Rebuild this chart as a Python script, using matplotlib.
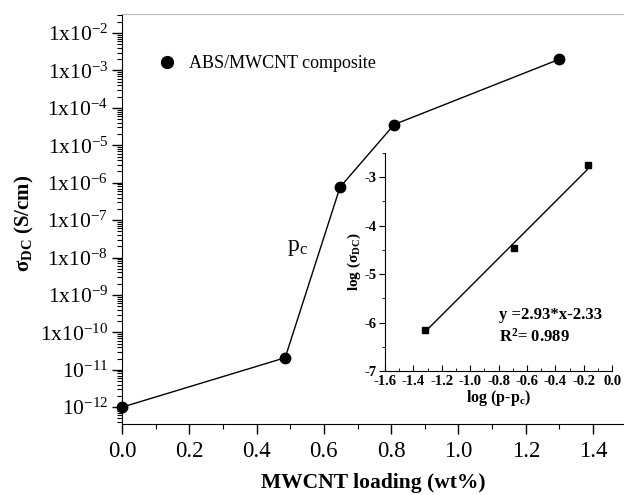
import matplotlib
matplotlib.use("Agg")
import matplotlib.pyplot as plt
import numpy as np
from matplotlib.ticker import FixedLocator, LogLocator, NullFormatter, FuncFormatter, MultipleLocator

plt.rcParams['font.family'] = ['Liberation Serif', 'DejaVu Serif']
plt.rcParams['mathtext.fontset'] = 'custom'
plt.rcParams['mathtext.rm'] = 'Liberation Serif'
plt.rcParams['mathtext.default'] = 'regular'

# Datos principales
carga = [0.0, 0.485, 0.648, 0.809, 1.30]           # wt%
sigma = [1.0e-12, 2.1e-11, 7.6e-7, 3.6e-5, 2.0e-3]  # S/cm

# Datos del recuadro
log_p = [-1.32, -0.69, -0.17]
log_sigma = [-6.15, -4.47, -2.74]
pendiente = 2.93
intercepto = -2.33
fit_x = [-1.30, -0.175]

fig = plt.figure(figsize=(6.24, 4.95), dpi=100)
ax = fig.add_axes([0.1955, 0.1434, 0.8045, 0.8283])

ax.plot(carga, sigma, '-', color='black', lw=1.0, marker='o', ms=7.5, clip_on=False, zorder=3)
ax.plot([], [], 'o', color='black', ms=8.5, label='ABS/MWCNT composite')
ax.set_yscale('log')
ax.set_xlim(0, 1.492)
ax.set_ylim(10**-12.45, 10**-1.49)

exps = list(range(-12, -1))
ax.yaxis.set_major_locator(FixedLocator([10.0**e for e in exps]))
def fmt_y(v, pos):
    e = int(round(np.log10(v)))
    if e <= -11:
        return '10$^{%d}$' % e
    return '1x10$^{%d}$' % e
ax.yaxis.set_major_formatter(FuncFormatter(fmt_y))
ax.yaxis.set_minor_locator(LogLocator(base=10, subs=np.arange(2, 10), numticks=100))
ax.yaxis.set_minor_formatter(NullFormatter())
ax.xaxis.set_major_locator(MultipleLocator(0.2))
ax.xaxis.set_minor_locator(MultipleLocator(0.1))
ax.xaxis.set_major_formatter(FuncFormatter(lambda v, p: '%.1f' % v))
ax.tick_params(axis='x', which='major', direction='out', length=7, width=1, labelsize=16.5, pad=5)
ax.tick_params(axis='y', which='major', direction='out', length=7, width=1, labelsize=15.5, pad=3)
ax.tick_params(axis='both', which='minor', direction='out', length=3.5, width=0.8)
ax.spines['right'].set_visible(False)
ax.spines['top'].set_color('#b8b8b8')

ax.set_xlabel('MWCNT loading (wt%)', fontsize=15.5, fontweight='bold', labelpad=8)
ax.set_ylabel('σ$_{DC}$ (S/cm)', fontsize=15, fontweight='bold')
ax.yaxis.set_label_coords(-0.171, 0.49)
ax.legend(loc='upper left', bbox_to_anchor=(0.04, 0.94), frameon=False, fontsize=13,
          handletextpad=0.7, handlelength=1.0)
ax.text(0.52, 10**-7.72, 'p$_c$', fontsize=17, ha='center', va='center')

# Recuadro
ins = fig.add_axes([0.617, 0.2505, 0.364, 0.4404])
ins.plot(log_p, log_sigma, 's', color='black', ms=5, clip_on=False, zorder=3)
fit_y = [pendiente * v + intercepto for v in fit_x]
ins.plot(fit_x, fit_y, '-', color='black', lw=1.0)
ins.set_xlim(-1.6, 0.0)
ins.set_ylim(-7, -2.5)
ins.xaxis.set_major_locator(MultipleLocator(0.2))
ins.xaxis.set_minor_locator(MultipleLocator(0.1))
ins.xaxis.set_major_formatter(FuncFormatter(lambda v, p: '%.1f' % v))
ins.yaxis.set_major_locator(MultipleLocator(1))
ins.yaxis.set_minor_locator(MultipleLocator(0.5))
ins.yaxis.set_major_formatter(FuncFormatter(lambda v, p: '%d' % v))
ins.tick_params(axis='x', which='major', direction='in', length=4, labelsize=10.5, pad=3)
ins.tick_params(axis='x', which='minor', direction='in', length=2)
ins.tick_params(axis='y', which='major', direction='out', length=4, labelsize=10.5, pad=2)
ins.tick_params(axis='y', which='minor', direction='out', length=2)
for lab in ins.get_xticklabels() + ins.get_yticklabels():
    lab.set_fontweight('bold')
ins.spines['top'].set_visible(False)
ins.spines['right'].set_visible(False)
ins.patch.set_alpha(0)
ins.set_xlabel('log (p-p$_c$)', fontsize=11.5, fontweight='bold', labelpad=0)
ins.set_ylabel('log (σ$_{DC}$)', fontsize=11, fontweight='bold', labelpad=1)
ins.text(-0.80, -5.84, 'y =2.93*x-2.33', fontsize=12, fontweight='bold', ha='left', va='center')
ins.text(-0.80, -6.30, 'R$^2$= 0.989', fontsize=12, fontweight='bold', ha='left', va='center')

fig.savefig('out.png', dpi=100)
